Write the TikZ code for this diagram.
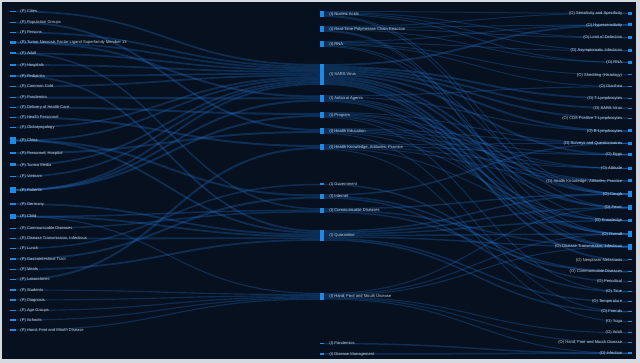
\documentclass[tikz,border=0pt]{standalone}
\usepackage{fontspec}
\setmainfont{Liberation Sans}
\usetikzlibrary{positioning,calc,backgrounds}

\definecolor{bgnavy}{HTML}{06101E}
\definecolor{framegray}{HTML}{D5DAE0}
\definecolor{barblue}{HTML}{1E88E5}
\definecolor{linkblue}{HTML}{1F6CC4}
\definecolor{lbltext}{HTML}{C8D2DD}

\begin{document}
\begin{tikzpicture}[x=1pt, y=-1pt,
    pbar/.style={rectangle, fill=barblue, minimum width=6pt, inner sep=0pt},
    ibar/.style={rectangle, fill=barblue, minimum width=3.5pt, inner sep=0pt},
    obar/.style={rectangle, fill=barblue, minimum width=4pt, inner sep=0pt},
    lbl/.style={font=\fontsize{4.1}{4.6}\selectfont, text=lbltext, inner sep=0.5pt},
    link/.style={draw=linkblue, opacity=0.32}
]
    \useasboundingbox (0,0) rectangle (640,363);

    % Left column (P)
    \foreach \k/\y/\h/\t in {Cities/11.5/1.5/Cities, PopGr/22.5/1.5/Population Groups,
        Persons/32.5/1.5/Persons, TNF/42.5/3/Tumor Necrosis Factor Ligand Superfamily Member 13,
        Adult/53.5/2/Adult, Hosp/65/1.5/Hospitals, Ped/76/2.5/Pediatrics,
        Cold/86.5/1.5/Common Cold, Pand/97.5/1.5/Pandemics, Deliv/107.5/1.5/Delivery of Health Care,
        HPers/117.5/1.5/Health Personnel, Oto/127.5/1.5/Otolaryngology, China/140.5/7/China,
        PersH/153/1.5/{Personnel, Hospital}, Tunica/165/3/Tunica Media, Viet/176.5/1.5/Vietnam,
        Patients/190/6/Patients, Germany/204/2.5/Germany, Child/216.5/5.5/Child,
        Comm/228.5/1.5/Communicable Diseases, Trans/238.5/1.5/{Disease Transmission, Infectious},
        Lunch/248.5/1.5/Lunch, GI/259/1.5/Gastrointestinal Tract, Meals/269.5/1.5/Meals,
        Labs/279.5/1.5/Laboratories, Students/290/1.5/Students, Diag/300/1.5/Diagnosis,
        Age/310.5/1.5/Age Groups, Schools/320/1.5/Schools, HFMD/330/1.5/{Hand, Foot and Mouth Disease}}
    {
        \node[pbar, minimum height=\h pt] (p\k) at (13,\y) {};
        \node[lbl, right=3.5pt of p\k] (pt\k) {(P) \t};
    }

    % Middle column (I)
    \foreach \k/\y/\h/\t in {NA/14/6/Nucleic Acids, PCR/29/6/Real-Time Polymerase Chain Reaction,
        RNA/44/6/RNA, SARS/74.5/21/SARS Virus, Anti/98.5/6.5/Antiviral Agents, Prog/115/6/Program,
        HEdu/131/6/Health Education, HKAP/147/6/{Health Knowledge, Attitudes, Practice},
        Gov/184.5/2/Government, Net/196.5/4.5/Internet, Comm/210.3/4.7/Communicable Diseases,
        Quar/235.5/11/Quarantine, HFMD/296.3/7/{Hand, Foot and Mouth Disease},
        Pand/343.5/1.5/Pandemics, DM/354/1.5/Disease Management}
    {
        \node[ibar, minimum height=\h pt] (i\k) at (321.75,\y) {};
        \node[lbl, right=5pt of i\k] (it\k) {(I) \t};
    }

    % Right column (O)
    \foreach \k/\y/\h/\t in {Sens/13.3/3/Sensitivity and Specificity, Hyper/25/3/Hypersensitivity,
        Limit/37.7/3/Limit of Detection, Asym/50.7/3/Asymptomatic Infections, RNA/62.3/3/RNA,
        Shed/75/1/{Shedding (Histology)}, Diar/86.7/1.3/Diarrhea, TL/98.3/1/T-Lymphocytes,
        SARS/108.3/1/SARS Virus, CD8/118.3/1/CD8-Positive T-Lymphocytes, BL/131/3/B-Lymphocytes,
        Surv/143.3/3/Surveys and Questionnaires, Eggs/154.7/3/Eggs, Att/168.3/3/Attitude,
        HKAP/181/3/{Health Knowledge, Attitudes, Practice}, Cough/194/5.7/Cough, Fever/207.7/5/Fever,
        Know/220.7/3.3/Knowledge, Overall/234/5.7/Overall,
        Trans/246.7/5.7/{Disease Transmission, Infectious}, Neo/260/1/Neoplasm Metastasis,
        Comm/271.7/1/Communicable Diseases, Period/281.7/1/Periodical, Time/291.7/1/Time,
        Temp/301.7/1/Temperature, Friends/311.7/1/Friends, Yoga/321.7/1/Yoga, Adult/332.7/1/Adult,
        HFMD/342.7/1/{Hand, Foot and Mouth Disease}, Inf/353.3/1.7/Infection}
    {
        \node[obar, minimum height=\h pt] (o\k) at (630,\y) {};
        \node[lbl, left=5pt of o\k] (ot\k) {(O) \t};
    }

    \begin{scope}[on background layer]
        \fill[framegray] (0,0) rectangle (640,363);
        \fill[bgnavy] (2,2) rectangle (636,359);

        % P -> I flows
        \foreach \t/\w/\n/\srcs in {SARS/1.75/12/{Cities,Persons,TNF,Adult,Hosp,Ped,Cold,Oto,China,Tunica,Viet,Patients},
            Anti/2/3/{TNF,Pand,Patients}, Prog/2/2/{Deliv,Patients}, HEdu/2/2/{PopGr,PersH},
            HKAP/2/2/{HPers,Labs}, Gov/1.5/1/{Lunch}, Net/2/2/{China,GI}, Comm/1.5/3/{Adult,Child,Comm},
            Quar/1.8/6/{Ped,China,Germany,Child,Trans,Meals},
            HFMD/1.15/6/{Child,Students,Diag,Age,Schools,HFMD}}
            \foreach \s [count=\c] in \srcs
                \draw[link, line width=\w pt] (p\s.east) .. controls +(150,0) and +(-150,0)
                    .. ($(i\t.west)+(0,{\w*(\c-0.5)-\w*\n/2})$);

        % I -> O flows
        \foreach \s/\w/\n/\tgts in {NA/1/6/{Sens,Limit,Asym,RNA,Cough,Fever},
            PCR/1/6/{Sens,Hyper,Limit,RNA,Overall,Trans},
            RNA/1/6/{Hyper,Asym,Shed,Diar,Cough,Know},
            SARS/1.9/11/{Hyper,TL,SARS,CD8,BL,Eggs,Cough,Fever,Overall,Trans,Neo},
            Anti/1.1/6/{Diar,BL,Cough,Fever,Overall,Trans},
            Prog/1/6/{Surv,Att,HKAP,Know,Overall,Time},
            HEdu/1/6/{Surv,Eggs,Att,HKAP,Know,Friends},
            HKAP/1/6/{Surv,Eggs,Att,HKAP,Know,Yoga},
            Gov/1.5/1/{Period}, Net/1.5/3/{Surv,Comm,Time}, Comm/1.5/3/{Cough,Trans,Comm},
            Quar/1.5/7/{Cough,Fever,Know,Overall,Trans,Temp,Friends},
            HFMD/1.1/6/{Fever,Overall,Trans,Adult,HFMD,Inf},
            Pand/1.5/1/{Inf}, DM/1.5/1/{Inf}}
            \foreach \t [count=\c] in \tgts
                \draw[link, line width=\w pt] ($(i\s.east)+(0,{\w*(\c-0.5)-\w*\n/2})$)
                    .. controls +(150,0) and +(-150,0) .. (o\t.west);
    \end{scope}

\end{tikzpicture}
\end{document}
